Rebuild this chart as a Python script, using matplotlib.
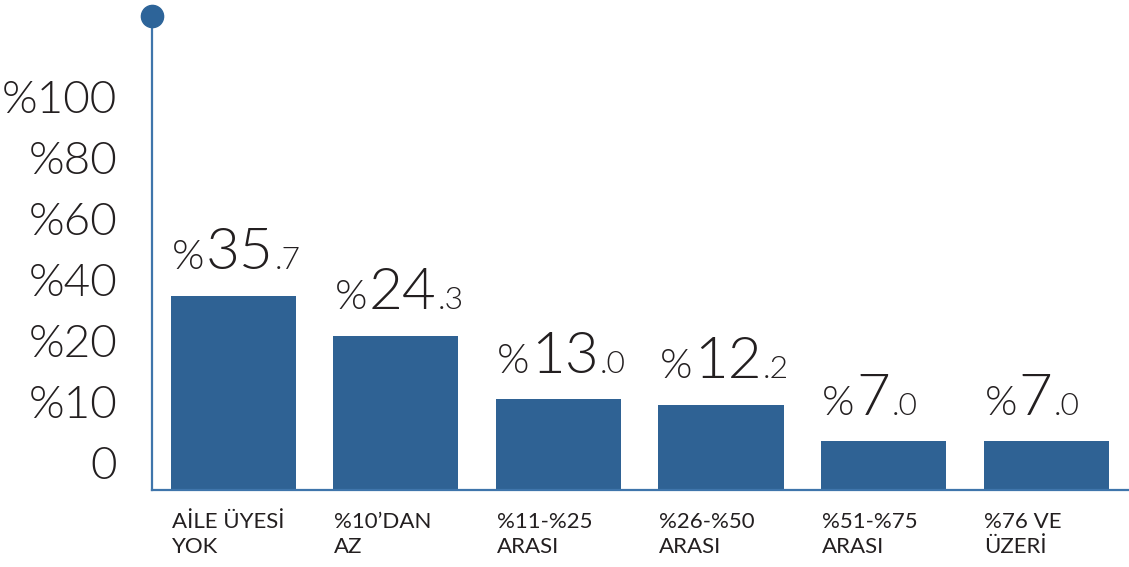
import numpy as np
import matplotlib
matplotlib.use("Agg")
import matplotlib.pyplot as plt
from matplotlib.offsetbox import TextArea, HPacker, AnnotationBbox

plt.rcParams["font.family"] = ["Lato", "DejaVu Sans"]

# Data
categories = ["AİLE ÜYESİ\nYOK", "%10’DAN\nAZ", "%11-%25\nARASI",
              "%26-%50\nARASI", "%51-%75\nARASI", "%76 VE\nÜZERİ"]
values = [35.7, 24.3, 13.0, 12.2, 7.0, 7.0]
tick_labels = ["0", "%10", "%20", "%40", "%60", "%80", "%100"]
# break points of the stepped value axis (each step gets equal height)
scale_points = [0, 10, 20, 40, 60, 80, 100, 120]

BAR = "#2f6294"
AXIS = "#3f75ab"
DOT = "#2d6499"
INK = "#231f20"
THIN = 300

steps = np.arange(len(scale_points))


def forward(v):
    return np.interp(v, scale_points, steps)


def inverse(s):
    return np.interp(s, steps, scale_points)


fig = plt.figure(figsize=(11.29, 5.67), dpi=100)
ax = fig.add_axes([152 / 1129, 77 / 567, 977 / 1129, 474 / 567])

x = np.arange(len(values))
w = 0.77
ax.set_yscale("function", functions=(forward, inverse))
ax.bar(x, values, width=w, color=BAR, zorder=2)
ax.set_xlim(-0.5, 5.51)
ax.set_ylim(0, 116)

# spines: left + bottom only, with a dot on top of the axis
for s in ["top", "right"]:
    ax.spines[s].set_visible(False)
for s in ["left", "bottom"]:
    ax.spines[s].set_color(AXIS)
    ax.spines[s].set_linewidth(1.6)
ax.plot([0], [1], "o", ms=16, color=DOT, transform=ax.transAxes,
        clip_on=False, zorder=5)

ax.set_yticks([])
ax.set_xticks(x - w / 2 + 0.005)
ax.set_xticklabels(categories, ha="left", fontsize=16, color=INK,
                   linespacing=1.3)
ax.tick_params(axis="x", length=0, pad=16)

# value labels: "%", integer part, decimal part in three sizes
for xi, v in zip(x, values):
    whole, dec = f"{v:.1f}".split(".")
    parts = [("%", 30), (whole, 42), ("." + dec, 23)]
    boxes = [TextArea(t, textprops=dict(fontsize=fs, color=INK,
                                        fontweight=THIN))
             for t, fs in parts]
    pack = HPacker(children=boxes, align="baseline", pad=0, sep=1)
    ab = AnnotationBbox(pack, (xi - w / 2, v), xybox=(1, 12),
                        xycoords="data", boxcoords="offset points",
                        box_alignment=(0, 0), frameon=False, pad=0)
    ax.add_artist(ab)

# y labels on their own evenly spaced scale
ax_lab = ax.twinx()
ax_lab.set_ylim(-27.5 / 61.05, (474 - 27.5) / 61.05)
ax_lab.set_yticks(range(len(tick_labels)))
ax_lab.set_yticklabels(tick_labels, fontsize=33, color=INK, fontweight=THIN)
ax_lab.yaxis.tick_left()
ax_lab.tick_params(axis="y", length=0, pad=25)
for s in ax_lab.spines.values():
    s.set_visible(False)

fig.savefig("out.png", dpi=100)
